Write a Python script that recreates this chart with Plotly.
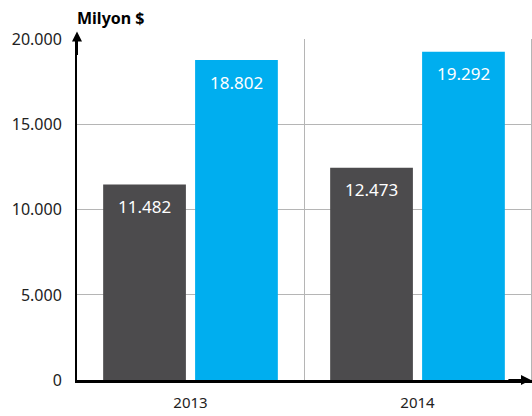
import plotly.graph_objects as go

years = ["2013", "2014"]
series_a = [11482, 12473]
series_b = [18802, 19292]
y_ticks = [0, 5000, 10000, 15000, 20000]
y_title = "Milyon $"

fig = go.Figure()
fig.add_trace(go.Bar(x=years, y=series_a, name="A", marker_color="#4c4b4d",
                     marker_line_width=0, hoverinfo="skip"))
fig.add_trace(go.Bar(x=years, y=series_b, name="B", marker_color="#00aeef",
                     marker_line_width=0, hoverinfo="skip"))
# invisible trace on a right-hand axis to draw the gray right border
fig.add_trace(go.Scatter(x=years, y=series_b, yaxis="y2", mode="none",
                         showlegend=False, hoverinfo="skip"))

annotations = [
    dict(text="<b>" + y_title + "</b>", xref="paper", yref="paper", x=0, y=1,
         xanchor="left", yanchor="bottom", yshift=8, xshift=-2, showarrow=False,
         font=dict(size=16, color="black", family="Noto Sans")),
    dict(xref="paper", yref="paper", x=0, y=1.022, ax=0, ay=25, showarrow=True,
         arrowhead=2, arrowsize=1, arrowwidth=2, arrowcolor="black", text=""),
    dict(xref="paper", yref="paper", x=1.002, y=0, ax=-25, ay=0, showarrow=True,
         arrowhead=2, arrowsize=1, arrowwidth=2, arrowcolor="black", text=""),
]
for vals, shift in ((series_a, -46), (series_b, 46)):
    for i, v in enumerate(vals):
        annotations.append(dict(
            x=i, y=v, xref="x", yref="y", text=f"{v:,}".replace(",", "."),
            showarrow=False, xshift=shift, yshift=-22, yanchor="middle",
            font=dict(color="white", size=17, family="Noto Sans")))

fig.update_layout(
    width=532, height=416,
    margin=dict(l=77, r=1, t=39, b=36),
    plot_bgcolor="white", paper_bgcolor="white",
    barmode="group", bargap=0.19, bargroupgap=0.10,
    showlegend=False,
    separators=",.",
    font=dict(family="Noto Sans", size=15, color="#222"),
    xaxis=dict(type="category", tickson="boundaries", showgrid=True, gridcolor="#b5b5b5",
               gridwidth=1, ticks="", showline=True, linecolor="black", linewidth=3,
               tickfont=dict(size=15), range=[-0.5, 1.5], ticklabelstandoff=7),
    yaxis=dict(range=[0, 20040], tickvals=y_ticks, tickformat=",d", showgrid=True,
               gridcolor="#b5b5b5", gridwidth=1, ticks="", showline=True, linecolor="black",
               linewidth=2, zeroline=False, tickfont=dict(size=16), ticklabelstandoff=10),
    yaxis2=dict(overlaying="y", side="right", range=[0, 20040], showline=True,
                linecolor="#b5b5b5", linewidth=1, showgrid=False, showticklabels=False,
                ticks="", zeroline=False),
    annotations=annotations,
)

fig.write_html("out.html", config={"displayModeBar": False},
               post_script="document.body.style.margin='0';document.body.style.overflow='hidden';")
